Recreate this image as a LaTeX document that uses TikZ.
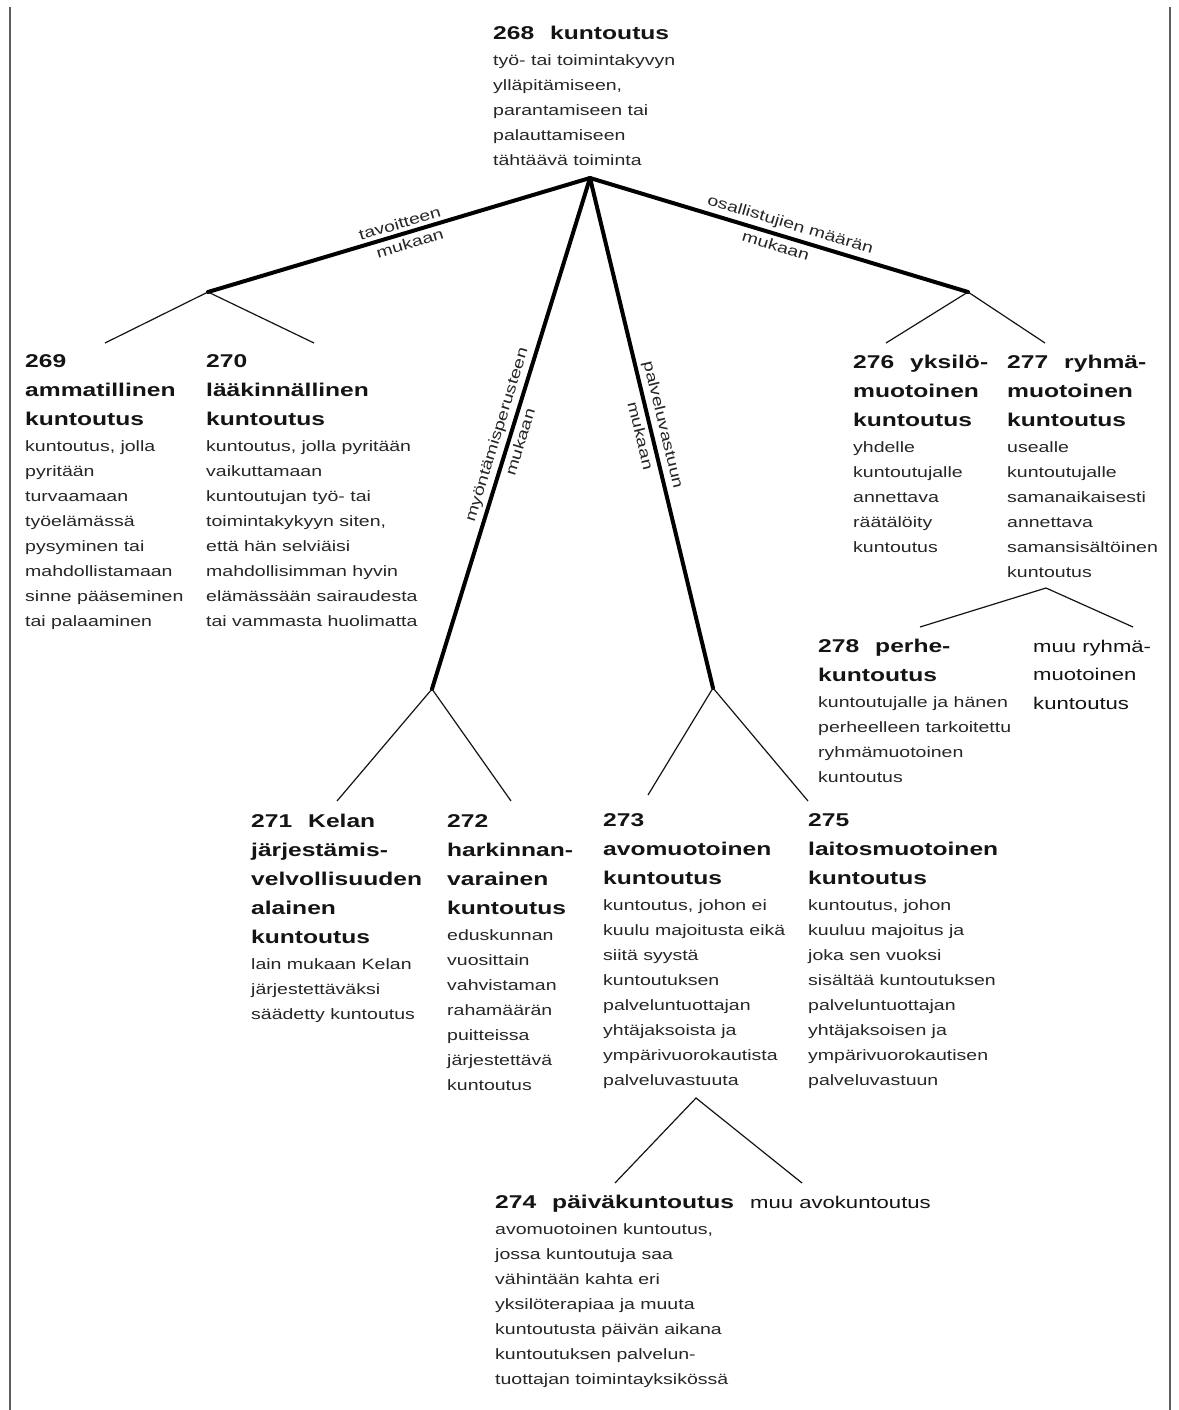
\documentclass[tikz,border=0pt]{standalone}
\usepackage{fontspec}
\setmainfont{Liberation Sans}[FakeStretch=1.3]
\newfontfamily\headfamily{Liberation Sans}[FakeStretch=1.33]

\definecolor{ink}{HTML}{141414}
\definecolor{body}{HTML}{262626}
\definecolor{framegray}{HTML}{5C5C5C}

% fonts of the entries
\newcommand\entrytitle{\headfamily\bfseries\fontsize{18.5}{29}\selectfont}
\newcommand\entrytext{\normalfont\fontsize{15}{25}\selectfont\color{body}}
\newcommand\plaintitle{\normalfont\fontsize{17}{28.5}\selectfont}
\newcommand\entrynum[1]{#1\hspace{16pt}\ignorespaces}

% title lines followed by the definition text; baseline = first title line
\newcommand\entrybox[2]{\parbox[t]{330pt}{\raggedright\entrytitle #1\par
  \vspace{1pt}\entrytext #2\par}}
\newcommand\titlebox[1]{\parbox[t]{330pt}{\raggedright\plaintitle #1\par}}

\tikzset{
  entry/.style={anchor=base west, inner sep=0pt, text=ink},
  trunk/.style={line width=4pt, line cap=round, draw=black},
  twig/.style={line width=1.2pt, draw=ink},
  edgelbl/.style={sloped, inner sep=3.5pt, font=\fontsize{15}{18}\selectfont, text=body},
  frameline/.style={line width=2pt, draw=framegray},
}

\begin{document}
\begin{tikzpicture}[x=1pt, y=-1pt]
\useasboundingbox (0,0) rectangle (1178,1410);
\fill[white] (0,0) rectangle (1178,1410);

% side rules of the page
\draw[frameline] (10,7) -- (10,1410);
\draw[frameline] (1170,7) -- (1170,1410);

% branching points
\coordinate (root) at (590,178);
\coordinate (jA) at (208,292);
\coordinate (jB) at (432,689);
\coordinate (jC) at (713,688);
\coordinate (jD) at (968,292);
\coordinate (jE) at (1046,588);
\coordinate (jF) at (696,1098);

% ends of the thin branches
\coordinate (t269) at (105,343);
\coordinate (t270) at (314,343);
\coordinate (t276) at (886,343);
\coordinate (t277) at (1045,343);
\coordinate (t271) at (337,801);
\coordinate (t272) at (511,801);
\coordinate (t273) at (648,795);
\coordinate (t275) at (808,801);
\coordinate (t278) at (920,627);
\coordinate (tmuuR) at (1133,627);
\coordinate (t274) at (615,1183);
\coordinate (tmuuA) at (802,1183);

% entries
\node[entry] (n268) at (493,40) {\entrybox{\entrynum{268}kuntoutus}{%
  työ- tai toimintakyvyn\\ ylläpitämiseen,\\ parantamiseen tai\\
  palauttamiseen\\ tähtäävä toiminta}};

\node[entry] (n269) at (25,367) {\entrybox{269\\ ammatillinen\\ kuntoutus}{%
  kuntoutus, jolla\\ pyritään\\ turvaamaan\\ työelämässä\\ pysyminen tai\\
  mahdollistamaan\\ sinne pääseminen\\ tai palaaminen}};

\node[entry] (n270) at (206,367) {\entrybox{270\\ lääkinnällinen\\ kuntoutus}{%
  kuntoutus, jolla pyritään\\ vaikuttamaan\\ kuntoutujan työ- tai\\
  toimintakykyyn siten,\\ että hän selviäisi\\ mahdollisimman hyvin\\
  elämässään sairaudesta\\ tai vammasta huolimatta}};

\node[entry] (n276) at (853,368) {\entrybox{\entrynum{276}yksilö-\\ muotoinen\\ kuntoutus}{%
  yhdelle\\ kuntoutujalle\\ annettava\\ räätälöity\\ kuntoutus}};

\node[entry] (n277) at (1007,368) {\entrybox{\entrynum{277}ryhmä-\\ muotoinen\\ kuntoutus}{%
  usealle\\ kuntoutujalle\\ samanaikaisesti\\ annettava\\ samansisältöinen\\ kuntoutus}};

\node[entry] (n278) at (818,652) {\entrybox{\entrynum{278}perhe-\\ kuntoutus}{%
  kuntoutujalle ja hänen\\ perheelleen tarkoitettu\\ ryhmämuotoinen\\ kuntoutus}};

\node[entry] (muuR) at (1033,652) {\titlebox{muu ryhmä-\\ muotoinen\\ kuntoutus}};

\node[entry] (n271) at (251,827) {\entrybox{\entrynum{271}Kelan\\ järjestämis-\\
  velvollisuuden\\ alainen\\ kuntoutus}{%
  lain mukaan Kelan\\ järjestettäväksi\\ säädetty kuntoutus}};

\node[entry] (n272) at (447,827) {\entrybox{272\\ harkinnan-\\ varainen\\ kuntoutus}{%
  eduskunnan\\ vuosittain\\ vahvistaman\\ rahamäärän\\ puitteissa\\
  järjestettävä\\ kuntoutus}};

\node[entry] (n273) at (603,826) {\entrybox{273\\ avomuotoinen\\ kuntoutus}{%
  kuntoutus, johon ei\\ kuulu majoitusta eikä\\ siitä syystä\\ kuntoutuksen\\
  palveluntuottajan\\ yhtäjaksoista ja\\ ympärivuorokautista\\ palveluvastuuta}};

\node[entry] (n275) at (808,826) {\entrybox{275\\ laitosmuotoinen\\ kuntoutus}{%
  kuntoutus, johon\\ kuuluu majoitus ja\\ joka sen vuoksi\\ sisältää kuntoutuksen\\
  palveluntuottajan\\ yhtäjaksoisen ja\\ ympärivuorokautisen\\ palveluvastuun}};

\node[entry] (n274) at (495,1208) {\entrybox{\entrynum{274}päiväkuntoutus}{%
  avomuotoinen kuntoutus,\\ jossa kuntoutuja saa\\ vähintään kahta eri\\
  yksilöterapiaa ja muuta\\ kuntoutusta päivän aikana\\ kuntoutuksen palvelun-\\
  tuottajan toimintayksikössä}};

\node[entry] (muuA) at (750,1208) {\titlebox{muu avokuntoutus}};

% main divisions with their criteria
\draw[trunk] (root) -- (jA)
  node[edgelbl, pos=0.49, above] {tavoitteen}
  node[edgelbl, pos=0.48, below] {mukaan};
\draw[trunk] (root) -- (jB)
  node[edgelbl, pos=0.51, above] {myöntämisperusteen}
  node[edgelbl, pos=0.51, below] {mukaan};
\draw[trunk] (root) -- (jC)
  node[edgelbl, pos=0.49, above] {palveluvastuun}
  node[edgelbl, pos=0.5, below] {mukaan};
\draw[trunk] (root) -- (jD)
  node[edgelbl, pos=0.52, above] {osallistujien määrän}
  node[edgelbl, pos=0.5, below] {mukaan};

% thin branches to the subclasses
\draw[twig] (t269) -- (jA) -- (t270);
\draw[twig] (t276) -- (jD) -- (t277);
\draw[twig] (t271) -- (jB) -- (t272);
\draw[twig] (t273) -- (jC) -- (t275);
\draw[twig] (t278) -- (jE) -- (tmuuR);
\draw[twig] (t274) -- (jF) -- (tmuuA);
\end{tikzpicture}
\end{document}
